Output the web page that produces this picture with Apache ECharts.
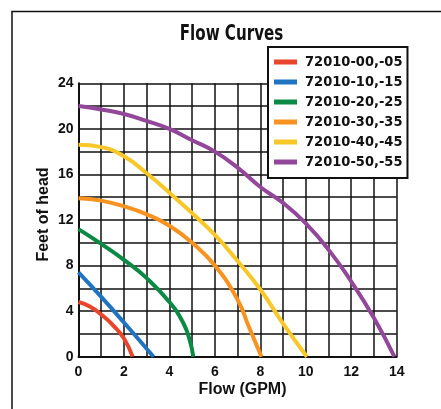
<!DOCTYPE html>
<html><head><meta charset="utf-8">
<script src="https://cdn.jsdelivr.net/npm/echarts@6/dist/echarts.min.js"></script>
<style>html,body{margin:0;padding:0;background:#fff}#c{width:441px;height:409px}</style>
</head><body><div id="c"></div>
<script>
const seriesNames = ['72010-00,-05','72010-10,-15','72010-20,-25','72010-30,-35','72010-40,-45','72010-50,-55'];
const colors = ['#e8452c','#1f74c2','#0a8a45','#f7931e','#f8c728','#92479a'];
const s00 = [[0,4.8],[0.5,4.4],[1,3.7],[1.5,2.8],[2,1.6],[2.38,0]];
const s10 = [[0,7.4],[1,5.25],[2,3.0],[3.3,0]];
const s20 = [[0,11.2],[1,9.9],[2,8.5],[3,6.9],[4,4.8],[4.6,3.0],[4.9,1.4],[5.05,0]];
const s30 = [[0,13.9],[1,13.7],[2,13.2],[3,12.5],[4,11.5],[5,10.0],[6,8.0],[7,5.0],[7.5,2.6],[8.05,0]];
const s40 = [[0,18.6],[1,18.4],[2,17.6],[3,16.1],[4,14.4],[5,12.6],[6,10.7],[7,8.4],[8,5.9],[9,2.9],[10.05,0]];
const s50 = [[0,22],[1,21.7],[2,21.3],[3,20.7],[4,20.0],[5,19.0],[6,18.0],[7,16.6],[8,14.9],[9,13.5],[10,11.7],[11,9.4],[12,6.6],[13,3.4],[13.9,0]];
const allData = [s00,s10,s20,s30,s40,s50];
const xLabels = [0,2,4,6,8,10,12,14];
const yLabels = [0,4,8,12,16,20,24];

const narrow = '"Liberation Sans Narrow","DejaVu Sans Condensed",sans-serif';
const reg = '"Liberation Sans",Arial,sans-serif';
const chart = echarts.init(document.getElementById('c'));
chart.setOption({
  animation:false,
  backgroundColor:'#fff',
  graphic:[
    {type:'rect',shape:{x:12,y:11.5,width:600,height:600},style:{fill:'none',stroke:'#111',lineWidth:1.5},z:0},
    {type:'text',x:231.5,y:35,scaleX:0.8,style:{text:'Flow Curves',font:'bold 21px '+narrow,fill:'#111',textAlign:'center',textVerticalAlign:'middle'}},
    {type:'text',x:44,y:214.5,rotation:Math.PI/2,style:{text:'Feet of head',font:'bold 16px '+reg,fill:'#111',textAlign:'center',textVerticalAlign:'middle'}},
    {type:'text',x:242.5,y:390,style:{text:'Flow (GPM)',font:'bold 16px '+reg,fill:'#111',textAlign:'center',textVerticalAlign:'middle'}}
  ],
  legend:{orient:'vertical',left:268,top:47,padding:[5,5,6,6],itemGap:0,itemWidth:23,itemHeight:5,
    backgroundColor:'#fff',borderColor:'#111',borderWidth:2,
    icon:'rect',textStyle:{fontFamily:narrow,fontWeight:'bold',fontSize:14.5,color:'#111',lineHeight:20,padding:[0,0,0,3]},
    data:seriesNames},
  grid:{left:78.5,right:44.3,top:83.3,bottom:52.3},
  xAxis:{type:'value',min:0,max:14,interval:1,
    axisLine:{lineStyle:{color:'#111',width:2}},axisTick:{show:false},
    splitLine:{lineStyle:{color:'#111',width:1.5}},
    axisLabel:{margin:8,fontFamily:reg,fontWeight:'bold',fontSize:14,color:'#111',
      formatter:v=>xLabels.indexOf(v)>=0?String(v):''}},
  yAxis:{type:'value',min:0,max:24,interval:2,
    axisLine:{show:true,lineStyle:{color:'#111',width:2}},axisTick:{show:false},
    splitLine:{lineStyle:{color:'#111',width:1.5}},
    axisLabel:{margin:5,fontFamily:reg,fontWeight:'bold',fontSize:14,color:'#111',
      formatter:v=>yLabels.indexOf(v)>=0?String(v):''}},
  series:allData.map((d,i)=>({name:seriesNames[i],type:'line',data:d,smooth:0.5,
    showSymbol:false,symbol:'none',color:colors[i],lineStyle:{width:4,color:colors[i]},z:3}))
});
</script></body></html>
